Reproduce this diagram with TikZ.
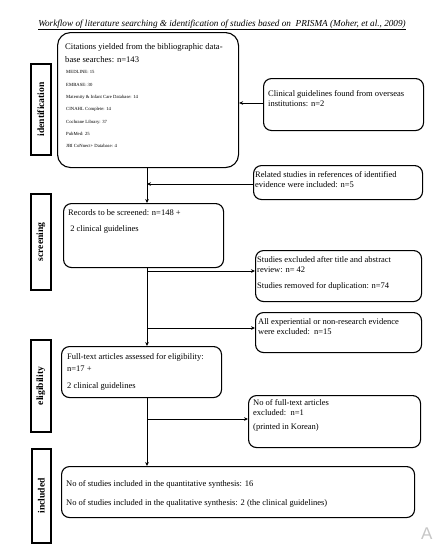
\documentclass[tikz,border=0pt]{standalone}
\usepackage{fontspec}
\setmainfont{Liberation Serif}
\newfontfamily\wmfont{Liberation Sans}
\usetikzlibrary{arrows.meta}
\begin{document}
\begin{tikzpicture}[x=1pt,y=-1pt,
  rbox/.style={draw, line width=1.1pt, rounded corners=8pt, anchor=north west, inner sep=0pt},
  lblbox/.style={draw, line width=1.8pt, anchor=north west, inner sep=0pt},
  lbltxt/.style={rotate=90, inner sep=0pt, font=\fontsize{9.6}{10}\selectfont\bfseries},
  txt/.style={anchor=north west, inner sep=0pt, align=left, font=\fontsize{8.5}{10.5}\selectfont},
  small/.style={anchor=north west, inner sep=0pt, align=left, font=\fontsize{4.7}{12.3}\selectfont},
  conn/.style={line width=0.9pt},
  arr/.style={conn, -{Stealth[length=4pt,width=3.6pt]}}]
\useasboundingbox (0,0) rectangle (435,546);
% title
\node[inner sep=0pt, font=\fontsize{9.2}{10}\selectfont\itshape] (title) at (222,25)
  {\underline{Workflow of literature searching \& identification of studies based on\ \ PRISMA (Moher, et al., 2009)}};
% side labels
\node[lblbox, minimum width=20pt, minimum height=91pt] (lid) at (30,63) {};
\node[lbltxt] (lidt) at (lid.center) {identification};
\node[lblbox, minimum width=20pt, minimum height=96pt] (lsc) at (30,193) {};
\node[lbltxt] (lsct) at (lsc.center) {screening};
\node[lblbox, minimum width=20pt, minimum height=92pt] (lel) at (30,339) {};
\node[lbltxt] (lelt) at (lel.center) {eligibility};
\node[lblbox, minimum width=19pt, minimum height=94pt] (lin) at (31,448) {};
\node[lbltxt] (lint) at (lin.center) {included};
% boxes
\node[rbox, rounded corners=13pt, minimum width=181pt, minimum height=135pt] (b1) at (57,32) {};
\node[txt, font=\fontsize{8.6}{13}\selectfont] (b1t) at (65,43)
  {Citations yielded from the bibliographic data-\\base searches: n=143};
\node[small] (b1l) at (66,70.5)
  {MEDLINE: 15\\EMBASE: 30\\Maternity \& Infant Care Database: 14\\CINAHL Complete: 14\\Cochrane Library: 37\\PubMed: 25\\JBI CoNnect+ Database: 4};
\node[rbox, minimum width=160pt, minimum height=52pt] (cg) at (263,78) {};
\node[txt] (cgt) at (268,90) {Clinical guidelines found from overseas\\institutions: n=2};
\node[rbox, minimum width=169pt, minimum height=34pt] (rs) at (253,165) {};
\node[txt] (rst) at (255,171) {Related studies in references of identified\\evidence were included: n=5};
\node[rbox, minimum width=160pt, minimum height=64pt] (b2) at (63,203) {};
\node[txt] (b2t) at (68,209) {Records to be screened: n=148 +\\[5.5pt]\ 2 clinical guidelines};
\node[rbox, minimum width=166pt, minimum height=51pt] (ex) at (255,250) {};
\node[txt] (ext) at (257,256) {Studies excluded after title and abstract\\review: n= 42\\[5.5pt]Studies removed for duplication: n=74};
\node[rbox, minimum width=166pt, minimum height=40pt] (ae) at (255,312) {};
\node[txt] (aet) at (258,318) {All experiential or non-research evidence\\were excluded:\ \ n=15};
\node[rbox, minimum width=160pt, minimum height=51pt] (b3) at (61,346) {};
\node[txt, font=\fontsize{8.5}{12.8}\selectfont] (b3t) at (67,353) {Full-text articles assessed for eligibility:\\n=17 +\\[3.5pt]2 clinical guidelines};
\node[rbox, minimum width=172pt, minimum height=52pt] (fx) at (248,395) {};
\node[txt] (fxt) at (253,399) {No of full-text articles\\excluded:\ \ n=1\\[3pt](printed in Korean)};
\node[rbox, minimum width=353pt, minimum height=51pt] (b5) at (61,466) {};
\node[txt, font=\fontsize{8.5}{19}\selectfont] (b5t) at (66,480) {No of studies included in the quantitative synthesis: 16\\No of studies included in the qualitative synthesis: 2 (the clinical guidelines)};
% watermark letter
\node[inner sep=0pt, anchor=north west, text=gray!45, font=\wmfont\fontsize{17}{17}\selectfont] (wm) at (421,528) {A};
% spine coordinate
\coordinate (sp) at (147,0);
% connectors
\draw[arr] (b1.south -| sp) -- (b2.north -| sp);
\draw[arr] (cg.west |- 0,103) -- (b1.east |- 0,103);
\draw[arr] (rs.west |- 0,184) -- (sp |- 0,184);
\draw[arr] (b2.south -| sp) -- (b3.north -| sp);
\draw[arr] (sp |- 0,271) -- (ex.west |- 0,271);
\draw[arr] (sp |- 0,328) -- (ae.west |- 0,328);
\draw[arr] (b3.south -| sp) -- (b5.north -| sp);
\draw[arr] (sp |- 0,419) -- (fx.west |- 0,419);
\end{tikzpicture}
\end{document}
